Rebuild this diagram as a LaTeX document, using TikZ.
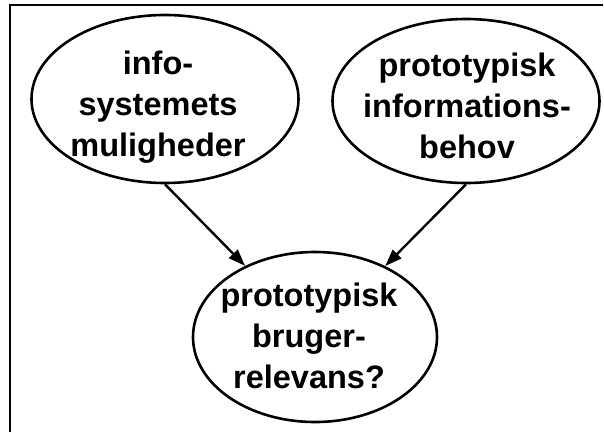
\documentclass[tikz,border=0pt]{standalone}
\usepackage{fontspec}
\setmainfont{Liberation Sans}
\usetikzlibrary{shapes.geometric,arrows.meta}
\tikzset{
  oval/.style={ellipse, draw=black, line width=2.6pt, inner sep=0pt},
  lbl/.style={align=center, inner sep=0pt, font=\fontsize{32.5}{41}\selectfont\bfseries},
  link/.style={line width=2.4pt, -{Triangle[length=17pt,width=12pt]}}
}
\begin{document}
\begin{tikzpicture}[x=1pt,y=-1pt]
\useasboundingbox (0,0) rectangle (604,432);
\fill[white] (0,0) rectangle (604,432);
\coordinate (fa) at (10,432);
\coordinate (fb) at (10,5);
\coordinate (fc) at (603,5);
\draw[line width=2pt] (fa) -- (fb) -- (fc);
\node[oval, minimum width=267pt, minimum height=168pt] (a) at (165,99) {};
\node[oval, minimum width=267pt, minimum height=164pt] (b) at (466,101) {};
\node[oval, minimum width=244pt, minimum height=170pt] (c) at (315,337) {};
\node[lbl] (ta) at (158,107) {info-\\systemets\\muligheder};
\node[lbl] (tb) at (467,106) {prototypisk\\informations-\\behov};
\node[lbl] (tc) at (309,336) {prototypisk\\bruger-\\relevans?};
\draw[link] (a.south) -- (c);
\draw[link] (b.south) -- (c);
\end{tikzpicture}
\end{document}
